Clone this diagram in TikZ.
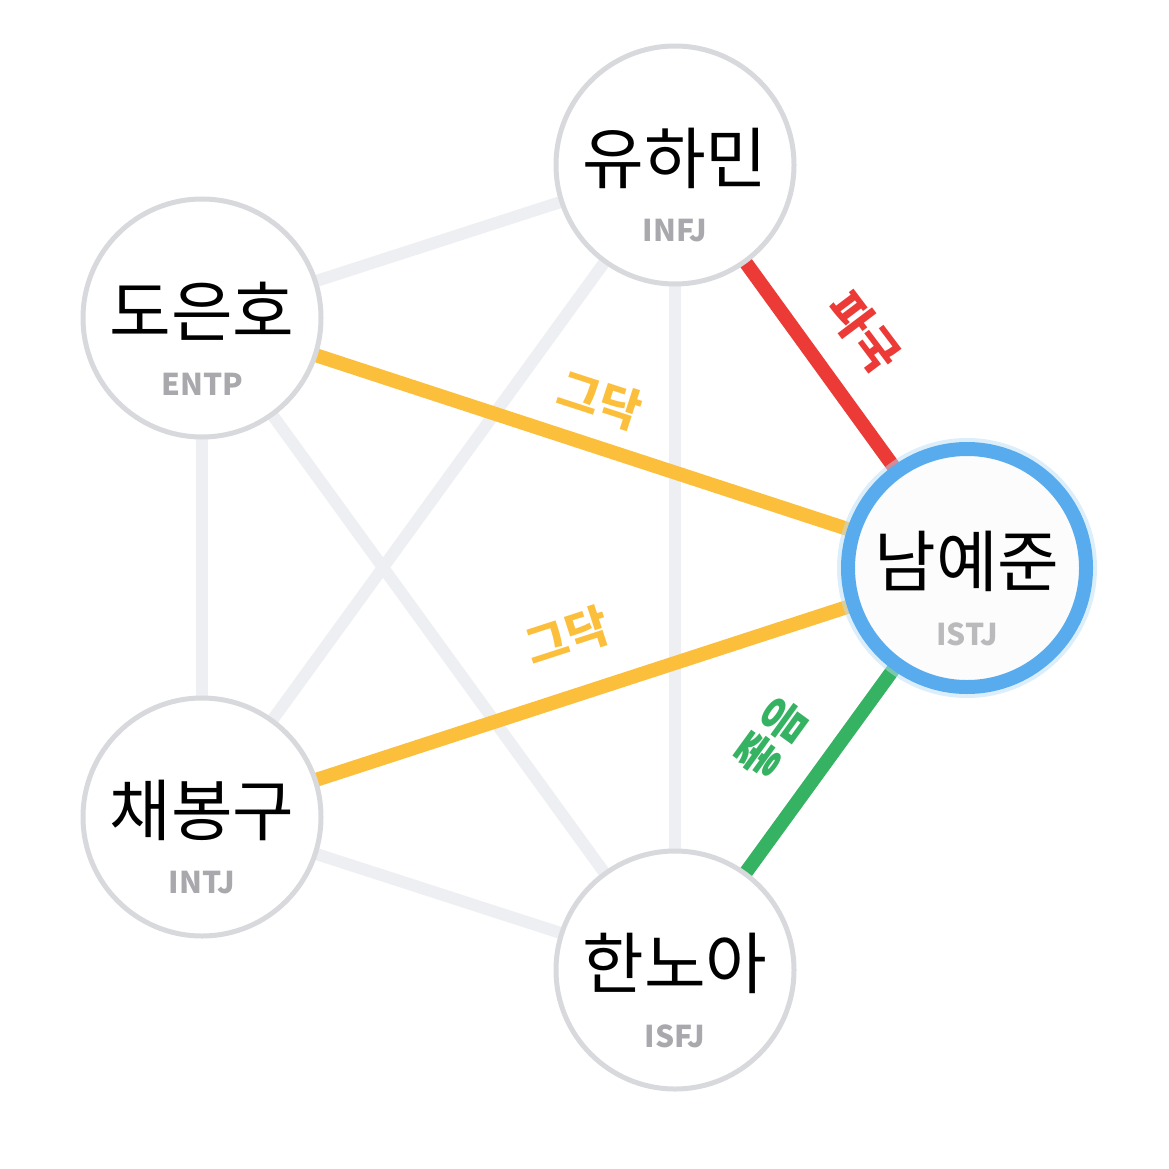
\documentclass[tikz,border=0pt]{standalone}
\usepackage{fontspec}
\setmainfont{Noto Sans CJK KR}
\begin{document}
\begin{tikzpicture}[x=1pt,y=-1pt,
  pnode/.style={circle,draw=circgray,line width=5pt,fill=white,minimum size=238pt,inner sep=0pt,align=center},
  gedge/.style={draw=edgegray,line width=12pt},
  cedge/.style={line width=14pt},
  nm/.style={font=\fontsize{67}{70}\selectfont},
  mb/.style={font=\fontsize{30}{32}\selectfont\bfseries,text=mbgray},
  elab/.style={font=\fontsize{46}{48}\selectfont\bfseries}]
\definecolor{circgray}{HTML}{D8D9DC}
\definecolor{edgegray}{HTML}{EEEFF2}
\definecolor{mbgray}{HTML}{A9A9AD}
\definecolor{cred}{HTML}{EC3A36}
\definecolor{corange}{HTML}{FBBF3C}
\definecolor{cgreen}{HTML}{35B262}
\definecolor{cblue}{HTML}{58ACEE}
\useasboundingbox (0,0) rectangle (1169,1169);
\coordinate (A) at (675,165);
\coordinate (B) at (202,318);
\coordinate (C) at (967,568);
\coordinate (D) at (202,817);
\coordinate (E) at (675,970);
\draw[gedge] (B)--(A); \draw[gedge] (B)--(D); \draw[gedge] (B)--(E);
\draw[gedge] (A)--(D); \draw[gedge] (A)--(E); \draw[gedge] (D)--(E);
\draw[cedge,draw=cred] (A)--(C);
\draw[cedge,draw=corange] (B)--(C);
\draw[cedge,draw=corange] (D)--(C);
\draw[cedge,draw=cgreen] (E)--(C);
\node[pnode] (na) at (A) {};
\node[pnode] (nb) at (B) {};
\node[pnode] (nd) at (D) {};
\node[pnode] (ne) at (E) {};
\node[circle,draw=cblue!40,line width=22pt,minimum size=238pt,opacity=0.5] at (C) {};
\node[pnode,draw=cblue,line width=14pt,fill=black!1] (nc) at (C) {};
\node[nm] at (675,158) {유하민}; \node[mb] at (675,231) {INFJ};
\node[nm] at (202,311) {도은호}; \node[mb] at (202,384) {ENTP};
\node[nm] at (967,561) {남예준}; \node[mb,text=mbgray!80] at (967,634) {ISTJ};
\node[nm] at (202,810) {채봉구}; \node[mb] at (202,883) {INTJ};
\node[nm] at (675,963) {한노아}; \node[mb] at (675,1036) {ISFJ};
\node[elab,text=cred,rotate=-53] (l1) at (864,332) {파국};
\node[elab,text=corange,rotate=-18] (l2) at (600,400) {그닥};
\node[elab,text=corange,rotate=18] (l3) at (567,636) {그닥};
\node[elab,text=cgreen,rotate=54] (l4) at (772,738) {좋음};
\end{tikzpicture}
\end{document}
